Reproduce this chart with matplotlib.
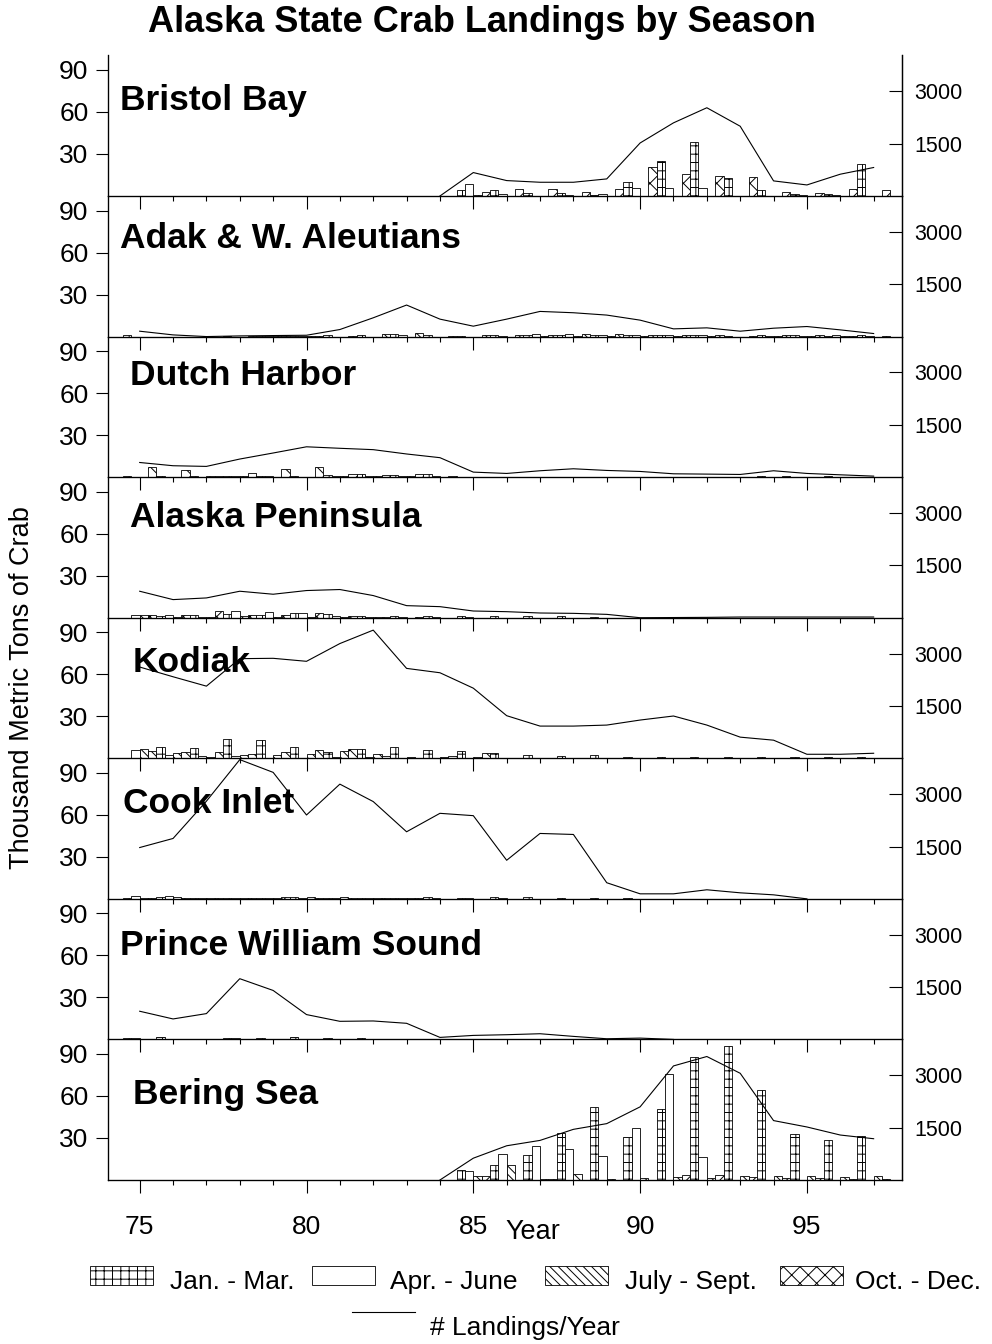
import numpy as np
import matplotlib
matplotlib.use("Agg")
import matplotlib.pyplot as plt
from matplotlib.patches import Rectangle
from matplotlib.lines import Line2D

plt.rcParams['font.family'] = ['Liberation Sans', 'DejaVu Sans']
plt.rcParams['hatch.linewidth'] = 0.7
plt.rcParams['hatch.color'] = 'black'

nan = np.nan
years = np.arange(75, 98)

regions = ["Bristol Bay", "Adak & W. Aleutians", "Dutch Harbor", "Alaska Peninsula",
           "Kodiak", "Cook Inlet", "Prince William Sound", "Bering Sea"]
seasons = ["Jan. - Mar.", "Apr. - June", "July - Sept.", "Oct. - Dec."]

# thousand metric tons per quarter, seasons 75..97
bb_q1 = [0, 0, 0, 0, 0, 0, 0, 0, 0, 0, 4.3, 4.0, 1.9, 1.9, 0.7, 10.2, 25.0, 38.3, 13.1, 4.0, 1.4, 1.7, 22.6]
bb_q2 = [0, 0, 0, 0, 0, 0, 0, 0, 0, 0, 8.3, 1.2, 0.3, 0.7, 1.2, 5.5, 5.5, 5.5, 0, 0, 0.5, 0.5, 0]
bb_q3 = [0, 0, 0, 0, 0, 0, 0, 0, 0, 0, 0.5, 0, 0, 0, 0, 0, 0, 0, 0, 0, 0, 0, 0]
bb_q4 = [0, 0, 0, 0, 0, 0, 0, 0, 0, 0, 2.9, 4.8, 5.0, 3.1, 4.8, 20.5, 15.5, 14.0, 13.8, 3.1, 1.9, 4.8, 4.0]
bb_land = [nan, nan, nan, nan, nan, nan, nan, nan, nan, 0, 672, 442, 394, 394, 490, 1520, 2097, 2530, 2000, 433, 317, 625, 817]

ad_q1 = [1.4, 0, 0, 0.4, 0.4, 0.5, 1.0, 0.8, 1.5, 1.2, 0.5, 1.3, 1.2, 0.8, 1.0, 1.2, 0.8, 1.0, 0.6, 0.8, 0.8, 0.6, 0.8]
ad_q2 = [0, 0, 0, 0, 0.4, 0.4, 0, 0, 1.2, 0, 0, 0.6, 1.9, 1.9, 1.0, 1.0, 1.2, 0.8, 0, 0.5, 0.5, 0.8, 0.5]
ad_q3 = [0, 0, 0, 0, 0.3, 0.3, 0, 0, 0, 0, 0, 0, 0.4, 0.5, 0.5, 0.4, 0.4, 0.3, 0, 0.3, 0.3, 0.3, 0]
ad_q4 = [0, 0, 0, 0.3, 0.4, 0.3, 0.7, 1.5, 2.8, 0.5, 1.0, 1.2, 1.0, 1.9, 1.9, 1.2, 0.8, 1.0, 0.5, 0.8, 0.8, 0.6, 0.5]
ad_land = [154, 48, 0, 19, 29, 38, 202, 538, 904, 500, 298, 500, 721, 683, 616, 471, 221, 250, 154, 240, 288, 192, 87]

dh_q1 = [0.5, 1.0, 0.5, 0.7, 0.5, 1.0, 1.2, 1.9, 1.4, 1.9, 0.4, 0.3, 0.3, 0.4, 0.3, 0.3, 0.3, 0.4, 0.3, 0.5, 0.4, 0.5, 0.3]
dh_q2 = [0, 0.4, 0.3, 0.7, 0.5, 0.4, 0.5, 1.0, 0.8, 1.0, 0.3, 0.2, 0.2, 0.3, 0.2, 0.2, 0.2, 0.3, 0.2, 0.3, 0.3, 0.3, 0.2]
dh_q3 = [0, 0, 0.7, 0.5, 0, 0, 0.5, 0.5, 0.5, 0.3, 0, 0, 0, 0, 0, 0, 0, 0, 0, 0, 0, 0, 0]
dh_q4 = [7.1, 4.8, 0.7, 2.9, 6.0, 7.4, 1.9, 1.4, 1.9, 0.5, 0.3, 0.3, 0.3, 0.3, 0.3, 0.3, 0.3, 0.3, 0.3, 0.5, 0.4, 0.4, 0.3]
dh_land = [420, 327, 308, 519, 692, 870, 827, 788, 664, 558, 144, 106, 183, 240, 192, 163, 96, 87, 77, 183, 106, 67, 29]

ap_q1 = [0, 1.4, 1.7, 2.4, 1.9, 3.3, 2.6, 1.4, 1.4, 1.0, 1.0, 1.4, 1.0, 1.2, 0.7, 0, 0, 0, 0, 0, 0, 0, 0]
ap_q2 = [1.9, 1.9, 0.7, 4.5, 3.8, 3.3, 1.4, 0.5, 0.4, 0.3, 0.3, 0, 0, 0, 0, 0, 0, 0, 0, 0, 0, 0, 0]
ap_q3 = [1.9, 0.7, 0.5, 1.0, 0.5, 0.3, 0.5, 0.3, 0, 0, 0, 0, 0, 0, 0, 0, 0, 0, 0, 0, 0, 0, 0]
ap_q4 = [2.1, 1.7, 4.5, 1.9, 1.7, 3.3, 1.2, 0.5, 0.3, 0, 0, 0, 0, 0, 0, 0, 0, 0, 0, 0, 0, 0, 0]
ap_land = [759, 519, 567, 759, 673, 779, 808, 635, 346, 317, 192, 173, 135, 125, 96, 0, 5, 10, 20, 20, 20, 20, 20]

ko_q1 = [0, 7.9, 7.6, 13.8, 13.1, 7.9, 4.3, 6.4, 8.3, 6.0, 5.2, 4.0, 2.1, 1.4, 2.1, 1.0, 1.0, 1.0, 0.8, 0.8, 0.8, 0.8, 1.0]
ko_q2 = [6.0, 2.4, 1.7, 1.7, 0.5, 0.5, 1.2, 0.7, 0.5, 0.5, 0.5, 0.5, 0.3, 0.3, 0.3, 0.3, 0.3, 0.3, 0.3, 0.3, 0.3, 0.3, 0.3]
ko_q3 = [6.4, 3.6, 1.2, 2.4, 2.4, 3.1, 5.5, 3.3, 1.2, 1.2, 1.2, 0.3, 0.3, 0.3, 0.3, 0, 0, 0, 0, 0, 0, 0, 0]
ko_q4 = [5.5, 4.5, 4.3, 3.1, 4.3, 6.0, 6.4, 1.9, 0.5, 1.7, 3.6, 0.5, 0.3, 0.3, 0.3, 0.3, 0.3, 0.3, 0.3, 0.3, 0.3, 0.3, 0.3]
ko_land = [2616, 2337, 2068, 2856, 2866, 2780, 3289, 3674, 2577, 2452, 2010, 1221, 923, 923, 952, 1096, 1212, 952, 606, 519, 115, 115, 144]

ci_q1 = [0.5, 1.0, 0.5, 0.5, 0.5, 1.2, 0.5, 0.7, 0.5, 1.0, 0.7, 1.0, 1.0, 0.7, 0.3, 0.3, 0, 0, 0, 0, 0, 0, 0]
ci_q2 = [1.7, 1.9, 0.5, 0.5, 0.7, 0.5, 0.5, 0.5, 0.4, 0.3, 0.3, 0.3, 0, 0, 0, 0, 0, 0, 0, 0, 0, 0, 0]
ci_q3 = [0.5, 1.2, 0.4, 0.4, 0.5, 1.2, 1.0, 0.5, 0.3, 0, 0, 0, 0, 0, 0, 0, 0, 0, 0, 0, 0, 0, 0]
ci_q4 = [0.4, 0.5, 0.4, 0.5, 1.0, 0.5, 0.5, 0.5, 0.3, 0, 0, 0, 0, 0, 0, 0, 0, 0, 0, 0, 0, 0, 0]
ci_land = [1471, 1731, 2800, 3991, 3626, 2404, 3289, 2789, 1923, 2452, 2385, 1106, 1875, 1846, 462, 144, 144, 260, 173, 115, 0, nan, nan]

pw_q1 = [0.7, 1.4, 0.5, 0.7, 1.0, 1.4, 0.7, 0.7, 0.5, 0.3, 0.3, 0, 0, 0, 0, 0, 0, 0, 0, 0, 0, 0, 0]
pw_q2 = [0.7, 0.5, 0.3, 0.7, 0.5, 0.5, 0.3, 0.3, 0, 0, 0, 0, 0, 0, 0, 0, 0, 0, 0, 0, 0, 0, 0]
pw_q3 = [0, 0, 0, 0, 0, 0, 0, 0, 0, 0, 0, 0, 0, 0, 0, 0, 0, 0, 0, 0, 0, 0, 0]
pw_q4 = [0.3, 0.3, 0, 0.3, 0.3, 0.3, 0, 0, 0, 0, 0, 0, 0, 0, 0, 0, 0, 0, 0, 0, 0, 0, 0]
pw_land = [808, 587, 740, 1741, 1404, 712, 519, 529, 462, 58, 115, 135, 163, 87, 19, 38, 0, nan, nan, nan, nan, nan, nan]

bs_q1 = [0, 0, 0, 0, 0, 0, 0, 0, 0, 0, 7.4, 11.0, 17.9, 33.6, 52.1, 30.7, 50.7, 87.6, 95.4, 64.5, 32.8, 28.6, 31.7]
bs_q2 = [0, 0, 0, 0, 0, 0, 0, 0, 0, 0, 6.4, 18.6, 24.3, 22.1, 16.9, 37.1, 75.4, 16.2, 0, 0, 0, 0, 0]
bs_q3 = [0, 0, 0, 0, 0, 0, 0, 0, 0, 0, 3.1, 11.0, 1.0, 4.0, 1.0, 1.2, 1.9, 1.4, 3.1, 2.9, 2.9, 2.1, 2.9]
bs_q4 = [0, 0, 0, 0, 0, 0, 0, 0, 0, 0, 3.1, 0, 0.7, 0, 0, 0, 3.6, 3.6, 1.9, 1.4, 1.4, 0.7, 1.0]
bs_land = [nan, nan, nan, nan, nan, nan, nan, nan, nan, 0, 625, 981, 1135, 1452, 1616, 2097, 3270, 3540, 3059, 1703, 1520, 1289, 1183]

quarters = [
    (bb_q1, bb_q2, bb_q3, bb_q4), (ad_q1, ad_q2, ad_q3, ad_q4),
    (dh_q1, dh_q2, dh_q3, dh_q4), (ap_q1, ap_q2, ap_q3, ap_q4),
    (ko_q1, ko_q2, ko_q3, ko_q4), (ci_q1, ci_q2, ci_q3, ci_q4),
    (pw_q1, pw_q2, pw_q3, pw_q4), (bs_q1, bs_q2, bs_q3, bs_q4),
]
landings = [bb_land, ad_land, dh_land, ap_land, ko_land, ci_land, pw_land, bs_land]

hatches = ['++', '', '\\\\\\\\', 'xx']

# layout (pixels of a 992x1344 canvas)
W, H = 992.0, 1344.0
left_px, right_px = 108, 902
top_base = 196
pitch = 140.57
label_x = [120, 120, 130, 130, 133, 123, 120, 133]
label_y = [0.68, 0.70, 0.72, 0.71, 0.68, 0.68, 0.67, 0.61]

fig = plt.figure(figsize=(W / 100, H / 100), dpi=100)

for i, name in enumerate(regions):
    base = top_base + pitch * i
    ax = fig.add_axes([left_px / W, 1 - base / H, (right_px - left_px) / W, pitch / H])
    ax.set_facecolor('none')  # keep ticks of the panel above visible
    for q in range(4):
        vals = np.array(quarters[i][q], dtype=float)
        m = vals > 0
        ax.bar(years[m] - 0.5 + 0.25 * q, vals[m], width=0.25, align='edge',
               facecolor='white', edgecolor='black', linewidth=0.6,
               hatch=hatches[q], zorder=2)
    ax.set_xlim(74.05, 97.85)
    ax.set_ylim(0, 100.4)
    ax.set_yticks([30, 60, 90])
    ax.set_xticks([75, 80, 85, 90, 95])
    ax.set_xticks(years, minor=True)
    ax.tick_params(axis='y', direction='out', length=9, width=0.8, labelsize=19, pad=5)
    ax.tick_params(axis='x', which='major', direction='out', length=9.4, width=0.8,
                   labelsize=19, pad=16)
    ax.tick_params(axis='x', which='minor', direction='out', length=3.8, width=0.8)
    if i < len(regions) - 1:
        ax.tick_params(axis='x', labelbottom=False)
    ax.spines['top'].set_visible(False)
    for s in ['left', 'right', 'bottom']:
        ax.spines[s].set_linewidth(0.9)

    ax2 = ax.twinx()
    ax2.plot(years, landings[i], color='black', linewidth=0.8, zorder=3)
    ax2.set_ylim(0, 4030)
    ax2.set_yticks([1500, 3000])
    ax2.tick_params(axis='y', direction='in', length=9.4, width=0.8, labelsize=15.5, pad=9)
    ax2.spines['top'].set_visible(False)
    ax2.spines['right'].set_linewidth(0.9)
    ax2.text((label_x[i] - left_px) / (right_px - left_px), label_y[i], name,
             transform=ax2.transAxes, fontsize=25.5, fontweight='bold',
             ha='left', va='center', zorder=5)

fig.text(482 / W, 1 - 23 / H, "Alaska State Crab Landings by Season",
         fontsize=26, fontweight='bold', ha='center', va='center')
fig.text(22 / W, 1 - 688 / H, "Thousand Metric Tons of Crab", rotation=90,
         fontsize=19.5, ha='center', va='center')
fig.text(533 / W, 1 - 1232 / H, "Year", fontsize=19.5, ha='center', va='center')

# legend
box_x = [90, 312, 545, 780]
text_x = [170, 390, 625, 855]
for q in range(4):
    fig.add_artist(Rectangle((box_x[q] / W, 1 - 1285 / H), 63 / W, 19 / H,
                             transform=fig.transFigure, facecolor='white',
                             edgecolor='black', linewidth=0.6, hatch=hatches[q]))
    fig.text(text_x[q] / W, 1 - 1282 / H, seasons[q], fontsize=19,
             ha='left', va='center')
fig.add_artist(Line2D([352 / W, 415 / W], [1 - 1312 / H, 1 - 1312 / H],
                      transform=fig.transFigure, color='black', linewidth=0.8))
fig.text(430 / W, 1 - 1328 / H, "# Landings/Year", fontsize=19, ha='left', va='center')

fig.savefig("out.png", dpi=100)
